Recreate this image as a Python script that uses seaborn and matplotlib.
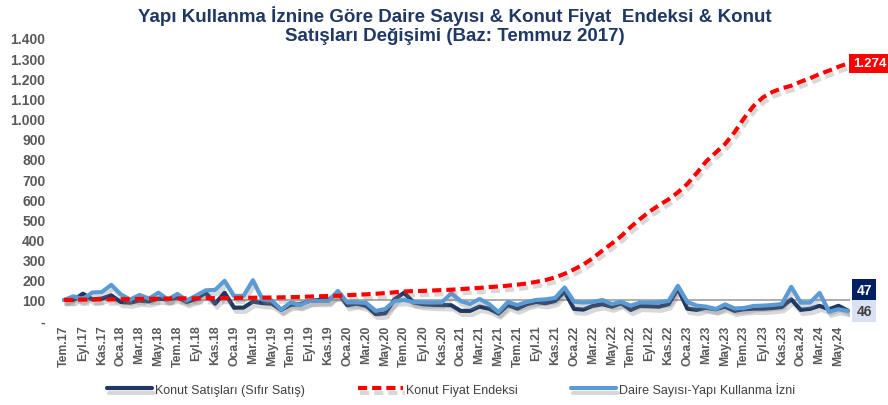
import numpy as np
import pandas as pd
import matplotlib.pyplot as plt
import matplotlib.patheffects as pe
import seaborn as sns

# ── data (Tem.17 = 100, monthly Jul 2017 – Jun 2024) ─────────────────────────
MONTHS_TR = ["Oca", "Şub", "Mar", "Nis", "May", "Haz",
             "Tem", "Ağu", "Eyl", "Eki", "Kas", "Ara"]

konut_satis = [
    100, 100, 131, 103, 107, 123, 90, 87, 97, 93, 107, 103,
    113, 90, 105, 136, 82, 136, 62, 62, 92, 85, 82, 51,
    76, 79, 95, 100, 100, 136, 74, 82, 71, 30, 34, 103,
    136, 88, 79, 76, 75, 74, 46, 46, 67, 57, 33, 75,
    57, 79, 90, 84, 95, 142, 56, 52, 71, 79, 67, 84,
    51, 71, 69, 67, 79, 156, 57, 51, 62, 54, 67, 46,
    54, 57, 57, 60, 65, 103, 51, 56, 71, 54, 71, 47,
]

fiyat_endeksi = [
    100, 101, 102, 102, 103, 103, 104, 104, 105, 106, 106, 107,
    108, 108, 108, 109, 109, 110, 110, 111, 111, 112, 112, 113,
    114, 115, 117, 118, 120, 121, 124, 126, 128, 131, 134, 138,
    142, 144, 145, 147, 149, 151, 154, 157, 160, 164, 167, 171,
    176, 182, 190, 199, 212, 230, 252, 276, 308, 345, 380, 417,
    462, 502, 539, 570, 599, 634, 676, 730, 788, 831, 874, 933,
    1002, 1062, 1105, 1132, 1150, 1163, 1183, 1200, 1221, 1238, 1257, 1274,
]

daire_sayisi = [
    100, 118, 105, 137, 139, 175, 128, 102, 125, 107, 136, 102,
    130, 98, 122, 148, 150, 195, 120, 120, 198, 103, 98, 52,
    88, 74, 95, 95, 95, 145, 88, 88, 85, 46, 55, 95,
    100, 90, 88, 87, 88, 133, 95, 80, 105, 80, 40, 90,
    75, 90, 100, 103, 110, 162, 92, 87, 90, 100, 80, 90,
    72, 87, 87, 88, 95, 170, 90, 72, 67, 55, 78, 58,
    60, 70, 72, 75, 80, 165, 87, 87, 135, 42, 54, 46,
]

SERIES_NAMES = ["Konut Satışları (Sıfır Satış)",
                "Konut Fiyat Endeksi",
                "Daire Sayısı-Yapı Kullanma İzni"]
COLORS = ["#1F3864", "#FF0000", "#5B9BD5"]

n = len(konut_satis)
month_labels = [f"{MONTHS_TR[(6 + i) % 12]}.{(17 + (6 + i) // 12):02d}" for i in range(n)]

df = pd.DataFrame({
    "idx": np.arange(n),
    SERIES_NAMES[0]: konut_satis,
    SERIES_NAMES[1]: fiyat_endeksi,
    SERIES_NAMES[2]: daire_sayisi,
})

# ── figure ───────────────────────────────────────────────────────────────────
sns.set_theme(style="white")
plt.rcParams["font.family"] = ["Liberation Sans", "DejaVu Sans"]

fig = plt.figure(figsize=(8.88, 4.06), dpi=100)
ax = fig.add_axes([0.070, 0.209, 0.887, 0.695])

shadow = [pe.SimpleLineShadow(offset=(1.5, -3), shadow_color="#808080", alpha=0.3), pe.Normal()]

ax.axhline(100, color="#A6A6A6", lw=1.3, zorder=1)

sns.lineplot(data=df, x="idx", y=SERIES_NAMES[0], ax=ax, color=COLORS[0],
             lw=3, label=SERIES_NAMES[0], path_effects=shadow, zorder=3)
sns.lineplot(data=df, x="idx", y=SERIES_NAMES[1], ax=ax, color=COLORS[1],
             lw=3, dashes=(2.2, 1.2), label=SERIES_NAMES[1], path_effects=shadow, zorder=5)
sns.lineplot(data=df, x="idx", y=SERIES_NAMES[2], ax=ax, color=COLORS[2],
             lw=3, label=SERIES_NAMES[2], path_effects=shadow, zorder=4)

ax.set_xlim(-0.2, n - 0.8)
ax.set_ylim(0, 1400)
ax.set_xlabel("")
ax.set_ylabel("")
for s in ax.spines.values():
    s.set_visible(False)

yt = np.arange(0, 1401, 100)
ax.set_yticks(yt)
ax.set_yticklabels(["-" if v == 0 else f"{v:,}".replace(",", ".") for v in yt],
                   fontsize=10, fontweight="bold", color="#595959")
ax.set_xticks(np.arange(0, n, 2))
ax.set_xticklabels(month_labels[::2], rotation=90, fontsize=8.8,
                   fontweight="bold", color="#595959")
ax.tick_params(axis="both", length=0, pad=3)
ax.tick_params(axis="y", pad=12)

# end-of-series value boxes
last = n - 1
ax.annotate(f"{fiyat_endeksi[-1]:,}".replace(",", "."), xy=(last, fiyat_endeksi[-1]),
            xytext=(3.5, 0), textcoords="offset points", va="center", ha="left",
            fontsize=9.5, fontweight="bold", color="white", annotation_clip=False,
            bbox=dict(boxstyle="square,pad=0.25", fc="#FF0000", ec="none"))
ax.annotate(str(konut_satis[-1]), xy=(last, konut_satis[-1]),
            xytext=(6, 15), textcoords="offset points", va="center", ha="left",
            fontsize=10, fontweight="bold", color="white", annotation_clip=False,
            bbox=dict(boxstyle="square,pad=0.3", fc="#002060", ec="none"))
ax.annotate(str(daire_sayisi[-1]), xy=(last, daire_sayisi[-1]),
            xytext=(6, 0), textcoords="offset points", va="center", ha="left",
            fontsize=10, fontweight="bold", color="#404040", annotation_clip=False,
            bbox=dict(boxstyle="square,pad=0.3", fc="#D9E1F2", ec="none"))

ax.get_legend().remove()
handles, labels = ax.get_legend_handles_labels()
fig.legend(handles, labels, loc="lower center", bbox_to_anchor=(0.508, -0.005),
           ncol=3, frameon=False, fontsize=9, handlelength=3.6, handletextpad=0.3,
           columnspacing=4.2, labelcolor="#404040")

fig.text(0.512, 0.985,
         "Yapı Kullanma İznine Göre Daire Sayısı & Konut Fiyat  Endeksi & Konut\n"
         "Satışları Değişimi (Baz: Temmuz 2017)",
         ha="center", va="top", fontsize=13.5, fontweight="bold", color="#1F3864",
         linespacing=1.15)

fig.savefig("out.png", dpi=100)
